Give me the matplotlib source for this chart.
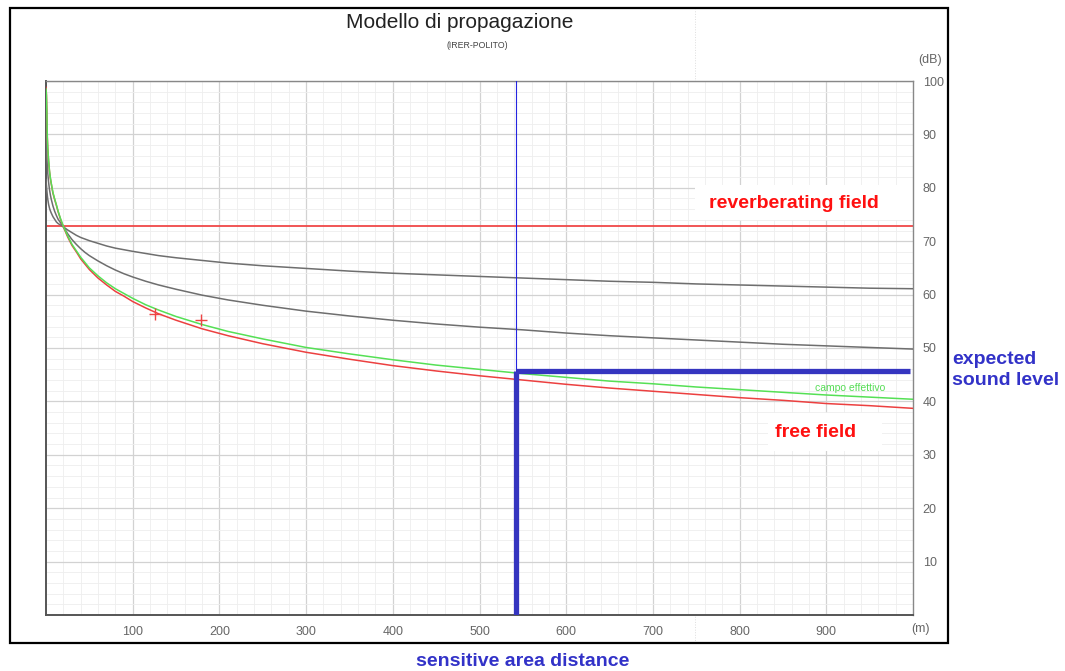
import matplotlib.pyplot as plt
from matplotlib.patches import Rectangle
from matplotlib.ticker import MultipleLocator

plt.rcParams['font.family'] = ['Liberation Sans', 'DejaVu Sans']

# distance (m) and levels (dB)
r_dist = [0, 0.5, 1, 1.5, 2, 3, 4, 5, 6, 8, 10, 12, 14, 17, 20, 25, 30, 35, 40, 45, 50,
          60, 70, 80, 90, 100, 115, 130, 150, 180, 210, 250, 300, 350, 400, 450, 500,
          550, 600, 650, 700, 750, 800, 850, 900, 950, 1000]

db_free = [98.8, 97.5, 94.5, 89.5, 87.5, 85.0, 83.1, 81.8, 80.8, 79.0, 77.8, 76.7, 75.5,
           74.0, 72.7, 70.8, 69.2, 68.0, 66.7, 65.7, 64.7, 63.1, 61.8, 60.6, 59.7, 58.7,
           57.5, 56.4, 55.2, 53.6, 52.3, 50.8, 49.2, 47.9, 46.7, 45.7, 44.8, 44.0, 43.2,
           42.5, 41.9, 41.3, 40.7, 40.2, 39.6, 39.2, 38.7]

db_eff = [98.5, 97.3, 94.3, 89.5, 87.6, 85.1, 83.2, 81.9, 80.9, 79.1, 77.9, 76.8, 75.6,
          74.1, 72.8, 71.0, 69.4, 68.2, 67.0, 66.0, 65.0, 63.5, 62.2, 61.1, 60.2, 59.3,
          58.1, 57.1, 55.9, 54.4, 53.1, 51.7, 50.1, 48.9, 47.8, 46.8, 46.0, 45.2, 44.5,
          43.8, 43.3, 42.7, 42.2, 41.7, 41.2, 40.8, 40.4]

db_gray1 = [81.5, 80.5, 79.5, 78.6, 77.9, 76.9, 76.2, 75.7, 75.3, 74.6, 74.1, 73.6, 73.3,
            73.0, 72.7, 72.1, 71.6, 71.1, 70.7, 70.4, 70.1, 69.6, 69.1, 68.7, 68.4, 68.1,
            67.7, 67.3, 66.9, 66.4, 65.9, 65.4, 64.9, 64.4, 64.0, 63.7, 63.4, 63.1, 62.8,
            62.5, 62.3, 62.0, 61.8, 61.6, 61.4, 61.2, 61.1]

db_gray2 = [90.1, 88.0, 85.8, 84.0, 82.8, 81.0, 79.7, 78.7, 77.9, 76.6, 75.6, 74.8, 74.1,
            73.4, 72.7, 71.4, 70.3, 69.4, 68.6, 67.9, 67.3, 66.3, 65.4, 64.6, 63.9, 63.3,
            62.5, 61.8, 61.0, 59.9, 59.0, 58.0, 56.9, 56.0, 55.2, 54.5, 53.9, 53.4, 52.8,
            52.3, 51.9, 51.5, 51.1, 50.7, 50.4, 50.1, 49.8]

meas_r = [126, 179]
meas_db = [56.3, 55.3]

reverb_db = 72.9
sens_dist = 542
expected_db = 45.7

x_ticks = [100, 200, 300, 400, 500, 600, 700, 800, 900]
y_ticks = [10, 20, 30, 40, 50, 60, 70, 80, 90, 100]

fig = plt.figure(figsize=(10.65, 6.71), dpi=100)
ax = fig.add_axes([46/1065, 56/671, 867/1065, 534/671])

ax.set_xlim(0, 1000)
ax.set_ylim(0, 100)
ax.xaxis.set_minor_locator(MultipleLocator(20))
ax.yaxis.set_minor_locator(MultipleLocator(2))
ax.set_xticks(x_ticks)
ax.set_yticks(y_ticks)
ax.grid(which='major', color='#d2d2d2', lw=0.9)
ax.grid(which='minor', color='#eeeeee', lw=0.6)
ax.set_axisbelow(True)
ax.yaxis.tick_right()
ax.tick_params(which='both', length=0, labelsize=9, labelcolor='#666666')
ax.tick_params(axis='y', pad=7)
ax.tick_params(axis='x', pad=8)
for s in ['left', 'bottom']:
    ax.spines[s].set_color('#555555')
    ax.spines[s].set_linewidth(1.4)
for s in ['top', 'right']:
    ax.spines[s].set_color('#888888')
    ax.spines[s].set_linewidth(1.0)

# white label boxes
ax.add_patch(Rectangle((749, 73.9), 251, 6.6, facecolor='white', edgecolor='none', zorder=1.5))
ax.add_patch(Rectangle((833, 30.8), 131, 7.1, facecolor='white', edgecolor='none', zorder=1.5))

ax.axhline(reverb_db, color='#f04848', lw=1.3, zorder=2)
ax.plot(r_dist, db_gray1, color='#6e6e6e', lw=1.1, zorder=3)
ax.plot(r_dist, db_gray2, color='#6e6e6e', lw=1.1, zorder=3)
ax.plot(r_dist, db_free, color='#ec4040', lw=1.1, zorder=3)
ax.plot(r_dist, db_eff, color='#55e055', lw=1.1, zorder=3)
ax.plot(meas_r, meas_db, '+', color='#ee4444', ms=9, mew=1.0, zorder=4)

ax.axvline(sens_dist, color='#2424e0', lw=0.8, zorder=4)
ax.plot([sens_dist, sens_dist], [0, expected_db], color='#3535c0', lw=3.8,
        solid_capstyle='butt', zorder=5)
ax.plot([sens_dist, 997], [expected_db, expected_db], color='#3535c0', lw=3.8,
        solid_capstyle='butt', zorder=5)

ax.text(863, 77.1, 'reverberating field', color='#ff1010', fontsize=14,
        fontweight='bold', ha='center', va='center', zorder=6)
ax.text(888, 34.1, 'free field', color='#ff1010', fontsize=14,
        fontweight='bold', ha='center', va='center', zorder=6)
ax.text(927, 42.6, 'campo effettivo', color='#55dd55', fontsize=7.5,
        ha='center', va='center', zorder=6)

fig.text(930/1065, 1 - 60/671, '(dB)', fontsize=9, color='#666666', ha='center', va='center')
fig.text(921/1065, 1 - 629/671, '(m)', fontsize=9, color='#666666', ha='center', va='center')

fig.text(460/1065, 1 - 23/671, 'Modello di propagazione', fontsize=15, color='#222222',
         ha='center', va='center')
fig.text(477/1065, 1 - 45/671, '(IRER-POLITO)', fontsize=6.3, color='#444444',
         ha='center', va='center')

fig.text(952/1065, 1 - 370/671, 'expected\nsound level', color='#3232c8', fontsize=14,
         fontweight='bold', ha='left', va='center', linespacing=1.25)
fig.text(523/1065, 1 - 661/671, 'sensitive area distance', color='#3232c8', fontsize=14,
         fontweight='bold', ha='center', va='center')

# outer frame and faint dotted line
fig.add_artist(Rectangle((10/1065, 1 - 643/671), 938/1065, 635/671, transform=fig.transFigure,
                         fill=False, edgecolor='black', lw=1.6))
fig.add_artist(plt.Line2D([695/1065, 695/1065], [1 - 643/671, 1 - 9/671], transform=fig.transFigure,
                          color='#dddddd', lw=0.7, ls=':', zorder=-1))

fig.savefig('out.png', dpi=100)
